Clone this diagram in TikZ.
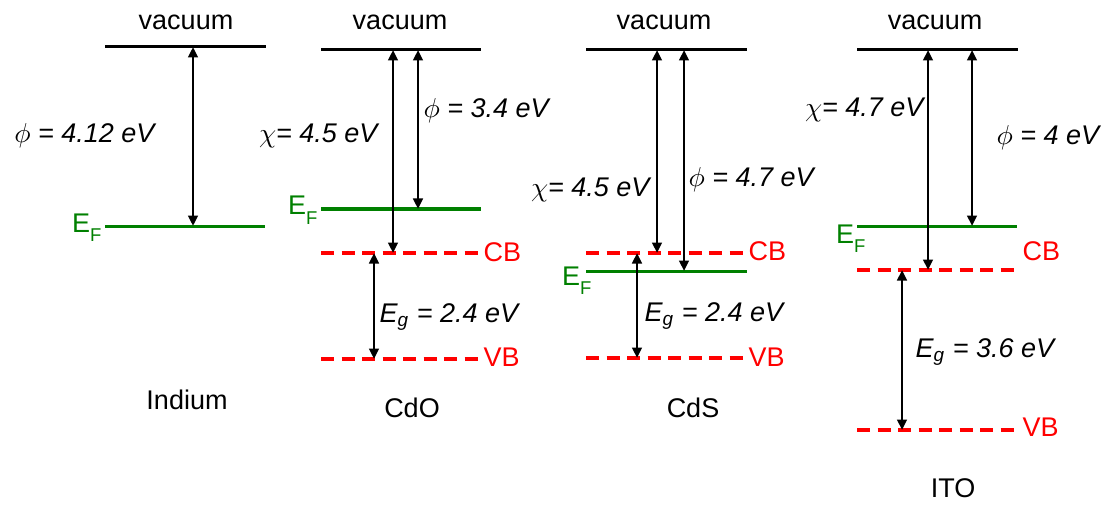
\documentclass[tikz,border=0pt]{standalone}
\usepackage{fontspec}
\setmainfont{Liberation Sans}
\usetikzlibrary{arrows.meta}
\definecolor{efgreen}{RGB}{0,128,0}
\definecolor{bandred}{RGB}{255,0,0}
\newcommand{\fermi}{E\raisebox{-3.6pt}{\fontsize{7.4}{8}\selectfont F}}

\begin{document}
\begin{tikzpicture}[x=0.4pt,y=-0.4pt,
  every node/.style={inner sep=0pt,font=\fontsize{10.8}{12}\selectfont},
  vaclevel/.style={line width=1.2pt},
  fermilevel/.style={efgreen,line width=1.2pt},
  bandlevel/.style={bandred,line width=1.3pt,dash pattern=on 5.2pt off 3pt},
  energyarrow/.style={line width=1.15pt,arrows={Triangle[length=4.2pt,width=3.8pt]-Triangle[length=4.2pt,width=3.8pt]}},
  val/.style={font=\fontsize{10.8}{12}\selectfont\itshape}]
  \useasboundingbox (0,0) rectangle (1103,505);

  \coordinate (InV1) at (105,47); \coordinate (InV2) at (266,47);
  \coordinate (InF1) at (105,226); \coordinate (InF2) at (265,226);
  \draw[vaclevel] (InV1) -- (InV2);
  \draw[fermilevel] (InF1) -- (InF2);
  \node (InVac) at (186,22) {vacuum};
  \node[efgreen,anchor=base east] (InEF) at (102,232) {\fermi};
  \coordinate (InPhiT) at (193,47); \coordinate (InPhiB) at (193,226);
  \path[energyarrow] (InPhiT) edge (InPhiB);
  \node[val,anchor=base east] (InPhi) at (155,143) {$\phi$ = 4.12 eV};
  \node (In) at (187,400) {Indium};

  \coordinate (OV1) at (321,50); \coordinate (OV2) at (481,50);
  \coordinate (OF1) at (321,209); \coordinate (OF2) at (481,209);
  \coordinate (OC1) at (321,253); \coordinate (OC2) at (479,253);
  \coordinate (OB1) at (321,359); \coordinate (OB2) at (479,359);
  \draw[vaclevel] (OV1) -- (OV2);
  \draw[fermilevel] (OF1) -- (OF2);
  \draw[bandlevel] (OC1) -- (OC2);
  \draw[bandlevel] (OB1) -- (OB2);
  \node (OVac) at (400,22) {vacuum};
  \node[efgreen,anchor=base east] (OEF) at (318,215) {\fermi};
  \node[bandred,anchor=west] (OCB) at (483,252) {CB};
  \node[bandred,anchor=west] (OVB) at (483,357) {VB};
  \coordinate (OChiT) at (393,50); \coordinate (OChiB) at (393,253);
  \coordinate (OPhiT) at (418,50); \coordinate (OPhiB) at (418,209);
  \coordinate (OGapT) at (374,253); \coordinate (OGapB) at (374,359);
  \path[energyarrow] (OChiT) edge (OChiB) (OPhiT) edge (OPhiB) (OGapT) edge (OGapB);
  \node[val,anchor=base east] (OChi) at (378,143) {$\chi$= 4.5 eV};
  \node[val,anchor=base west] (OPhi) at (423,118) {$\phi$ = 3.4 eV};
  \node[val,anchor=base west] (OGap) at (379,322) {E\textsubscript{g} = 2.4 eV};
  \node (O) at (412,408) {CdO};

  \coordinate (SV1) at (586,50); \coordinate (SV2) at (747,50);
  \coordinate (SC1) at (586,253); \coordinate (SC2) at (745,253);
  \coordinate (SF1) at (586,271); \coordinate (SF2) at (747,271);
  \coordinate (SB1) at (586,358); \coordinate (SB2) at (745,358);
  \draw[vaclevel] (SV1) -- (SV2);
  \draw[bandlevel] (SC1) -- (SC2);
  \draw[fermilevel] (SF1) -- (SF2);
  \draw[bandlevel] (SB1) -- (SB2);
  \node (SVac) at (664,22) {vacuum};
  \node[efgreen,anchor=base east] (SEF) at (592,285) {\fermi};
  \node[bandred,anchor=west] (SCB) at (748,251) {CB};
  \node[bandred,anchor=west] (SVB) at (748,357) {VB};
  \coordinate (SChiT) at (657,50); \coordinate (SChiB) at (657,253);
  \coordinate (SPhiT) at (684,50); \coordinate (SPhiB) at (684,271);
  \coordinate (SGapT) at (637,253); \coordinate (SGapB) at (637,358);
  \path[energyarrow] (SChiT) edge (SChiB) (SPhiT) edge (SPhiB) (SGapT) edge (SGapB);
  \node[val,anchor=base east] (SChi) at (650,197) {$\chi$= 4.5 eV};
  \node[val,anchor=base west] (SPhi) at (688,187) {$\phi$ = 4.7 eV};
  \node[val,anchor=base west] (SGap) at (644,321) {E\textsubscript{g} = 2.4 eV};
  \node (S) at (693,408) {CdS};

  \coordinate (TV1) at (857,50); \coordinate (TV2) at (1018,50);
  \coordinate (TF1) at (857,226); \coordinate (TF2) at (1017,226);
  \coordinate (TC1) at (857,270); \coordinate (TC2) at (1017,270);
  \coordinate (TB1) at (857,430); \coordinate (TB2) at (1017,430);
  \draw[vaclevel] (TV1) -- (TV2);
  \draw[fermilevel] (TF1) -- (TF2);
  \draw[bandlevel] (TC1) -- (TC2);
  \draw[bandlevel] (TB1) -- (TB2);
  \node (TVac) at (935,22) {vacuum};
  \node[efgreen,anchor=base east] (TEF) at (866,243) {\fermi};
  \node[bandred,anchor=west] (TCB) at (1022,251) {CB};
  \node[bandred,anchor=west] (TVB) at (1022,427) {VB};
  \coordinate (TChiT) at (928,50); \coordinate (TChiB) at (928,270);
  \coordinate (TPhiT) at (972,50); \coordinate (TPhiB) at (972,226);
  \coordinate (TGapT) at (902,270); \coordinate (TGapB) at (902,430);
  \path[energyarrow] (TChiT) edge (TChiB) (TPhiT) edge (TPhiB) (TGapT) edge (TGapB);
  \node[val,anchor=base east] (TChi) at (924,117) {$\chi$= 4.7 eV};
  \node[val,anchor=base west] (TPhi) at (996,145) {$\phi$ = 4 eV};
  \node[val,anchor=base west] (TGap) at (915,357) {E\textsubscript{g} = 3.6 eV};
  \node (T) at (953,488) {ITO};
\end{tikzpicture}
\end{document}
